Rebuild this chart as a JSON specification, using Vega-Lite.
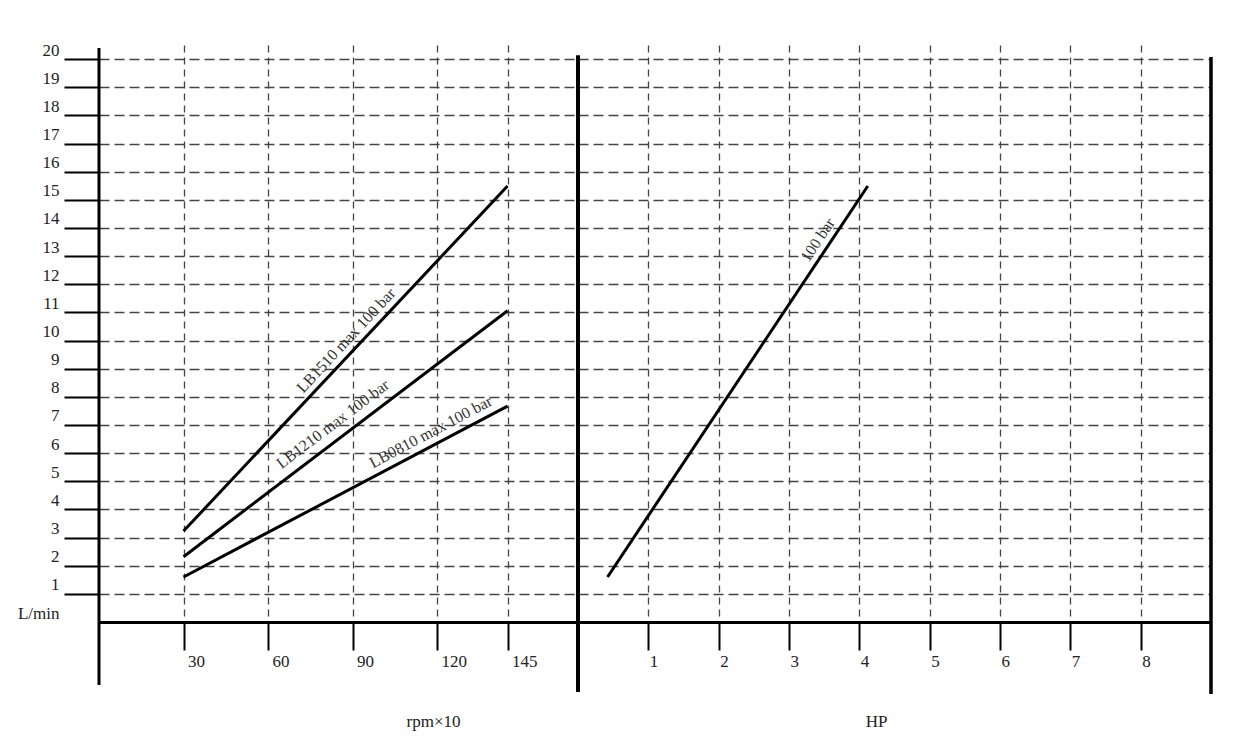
{
  "$schema": "https://vega.github.io/schema/vega-lite/v6.json",
  "background": "white",
  "padding": {"left": 17, "top": 41, "right": 30, "bottom": 10},
  "spacing": -2,
  "config": {
    "view": {"stroke": null},
    "font": "Liberation Serif",
    "axis": {"labelFont": "Liberation Serif", "titleFont": "Liberation Serif", "labelFontSize": 17, "labelColor": "#222", "titleFontSize": 17, "titleFontWeight": "normal", "titleColor": "#222", "labelOverlap": false, "labelFlush": false}
  },
  "datasets": {
    "pumps": [
      {"model": "LB1510", "rpm": 30, "flow": 3.23},
      {"model": "LB1510", "rpm": 145, "flow": 15.49},
      {"model": "LB1210", "rpm": 30, "flow": 2.32},
      {"model": "LB1210", "rpm": 145, "flow": 11.06},
      {"model": "LB0810", "rpm": 30, "flow": 1.6},
      {"model": "LB0810", "rpm": 145, "flow": 7.67}
    ],
    "power": [
      {"hp": 0.42, "flow": 1.6},
      {"hp": 4.12, "flow": 15.49}
    ]
  },
  "hconcat": [
    {
      "width": 479,
      "height": 577,
      "layer": [
        {
          "data": {"name": "pumps"},
          "mark": {"type": "line", "color": "black", "strokeWidth": 3},
          "encoding": {
            "x": {
              "field": "rpm", "type": "quantitative",
              "scale": {"domain": [0, 170], "nice": false, "zero": false},
              "axis": {
                "values": [30, 60, 90, 120, 145], "tickCount": 30, "format": "d",
                "title": "rpm×10", "titleX": 334, "titleY": 99, "titleBaseline": "middle", "titleAlign": "center", "titleAnchor": null,
                "grid": true, "gridDash": [7, 5], "gridColor": "#444", "gridWidth": 1.3,
                "tickSize": 28, "tickColor": "black", "tickWidth": 2,
                "labelAlign": "left", "labelOffset": 4, "labelPadding": 3,
                "domainColor": "black", "domainWidth": 3
              }
            },
            "y": {
              "field": "flow", "type": "quantitative",
              "scale": {"domain": [0, 20.5], "nice": false, "zero": false},
              "axis": {
                "values": [0, 1, 2, 3, 4, 5, 6, 7, 8, 9, 10, 11, 12, 13, 14, 15, 16, 17, 18, 19, 20], "tickCount": 40, "format": "d",
                "labelExpr": "datum.value == 0 ? 'L/min' : datum.label",
                "title": null, "domain": false,
                "grid": true, "gridDash": [10, 5], "gridWidth": 1.3,
                "gridColor": {"condition": {"test": "datum.value == 0", "value": "transparent"}, "value": "#444"},
                "tickSize": 35, "tickWidth": 2,
                "tickColor": {"condition": {"test": "datum.value == 0", "value": "transparent"}, "value": "black"},
                "labelBaseline": "bottom", "labelPadding": 5
              }
            },
            "detail": {"field": "model"}
          }
        },
        {
          "data": {"values": [{"rpm": 0, "flow": -2.24, "flowTop": 20.39}]},
          "mark": {"type": "rule", "color": "black", "strokeWidth": 3},
          "encoding": {
            "x": {"field": "rpm", "type": "quantitative"},
            "y": {"field": "flow", "type": "quantitative"},
            "y2": {"field": "flowTop"}
          }
        },
        {
          "data": {"values": [{"text": "LB1510 max 100 bar", "rpm": 87.7, "flow": 10.0}]},
          "mark": {"type": "text", "angle": -47, "fontSize": 16, "color": "#333", "align": "center", "baseline": "middle"},
          "encoding": {
            "x": {"field": "rpm", "type": "quantitative"},
            "y": {"field": "flow", "type": "quantitative"},
            "text": {"field": "text"}
          }
        },
        {
          "data": {"values": [{"text": "LB1210 max 100 bar", "rpm": 83.0, "flow": 7.03}]},
          "mark": {"type": "text", "angle": -37, "fontSize": 16, "color": "#333", "align": "center", "baseline": "middle"},
          "encoding": {
            "x": {"field": "rpm", "type": "quantitative"},
            "y": {"field": "flow", "type": "quantitative"},
            "text": {"field": "text"}
          }
        },
        {
          "data": {"values": [{"text": "LB0810 max 100 bar", "rpm": 117.8, "flow": 6.75}]},
          "mark": {"type": "text", "angle": -28, "fontSize": 16, "color": "#333", "align": "center", "baseline": "middle"},
          "encoding": {
            "x": {"field": "rpm", "type": "quantitative"},
            "y": {"field": "flow", "type": "quantitative"},
            "text": {"field": "text"}
          }
        }
      ]
    },
    {
      "width": 633,
      "height": 577,
      "layer": [
        {
          "data": {"name": "power"},
          "mark": {"type": "line", "color": "black", "strokeWidth": 3},
          "encoding": {
            "x": {
              "field": "hp", "type": "quantitative",
              "scale": {"domain": [0, 9], "nice": false, "zero": false},
              "axis": {
                "values": [1, 2, 3, 4, 5, 6, 7, 8], "tickCount": 30, "format": "d",
                "title": "HP", "titleX": 298, "titleY": 99, "titleBaseline": "middle", "titleAlign": "center", "titleAnchor": null,
                "grid": true, "gridDash": [7, 5], "gridColor": "#444", "gridWidth": 1.3,
                "tickSize": 28, "tickColor": "black", "tickWidth": 2,
                "labelAlign": "left", "labelOffset": 1, "labelPadding": 3,
                "domainColor": "black", "domainWidth": 3
              }
            },
            "y": {
              "field": "flow", "type": "quantitative",
              "scale": {"domain": [0, 20.5], "nice": false, "zero": false},
              "axis": {
                "values": [1, 2, 3, 4, 5, 6, 7, 8, 9, 10, 11, 12, 13, 14, 15, 16, 17, 18, 19, 20], "tickCount": 40,
                "title": null, "domain": false, "labels": false, "ticks": false,
                "grid": true, "gridDash": [10, 5], "gridWidth": 1.3, "gridColor": "#444"
              }
            }
          }
        },
        {
          "data": {"values": [{"hp": 0, "flow": -2.49, "flowTop": 20.14}]},
          "mark": {"type": "rule", "color": "black", "strokeWidth": 4},
          "encoding": {
            "x": {"field": "hp", "type": "quantitative"},
            "y": {"field": "flow", "type": "quantitative"},
            "y2": {"field": "flowTop"}
          }
        },
        {
          "data": {"values": [{"hp": 9, "flow": -2.56, "flowTop": 20.07}]},
          "mark": {"type": "rule", "color": "black", "strokeWidth": 3.5},
          "encoding": {
            "x": {"field": "hp", "type": "quantitative"},
            "y": {"field": "flow", "type": "quantitative"},
            "y2": {"field": "flowTop"}
          }
        },
        {
          "data": {"values": [{"text": "100 bar", "hp": 3.41, "flow": 13.57}]},
          "mark": {"type": "text", "angle": -56, "fontSize": 16, "color": "#333", "align": "center", "baseline": "middle"},
          "encoding": {
            "x": {"field": "hp", "type": "quantitative"},
            "y": {"field": "flow", "type": "quantitative"},
            "text": {"field": "text"}
          }
        }
      ]
    }
  ]
}
